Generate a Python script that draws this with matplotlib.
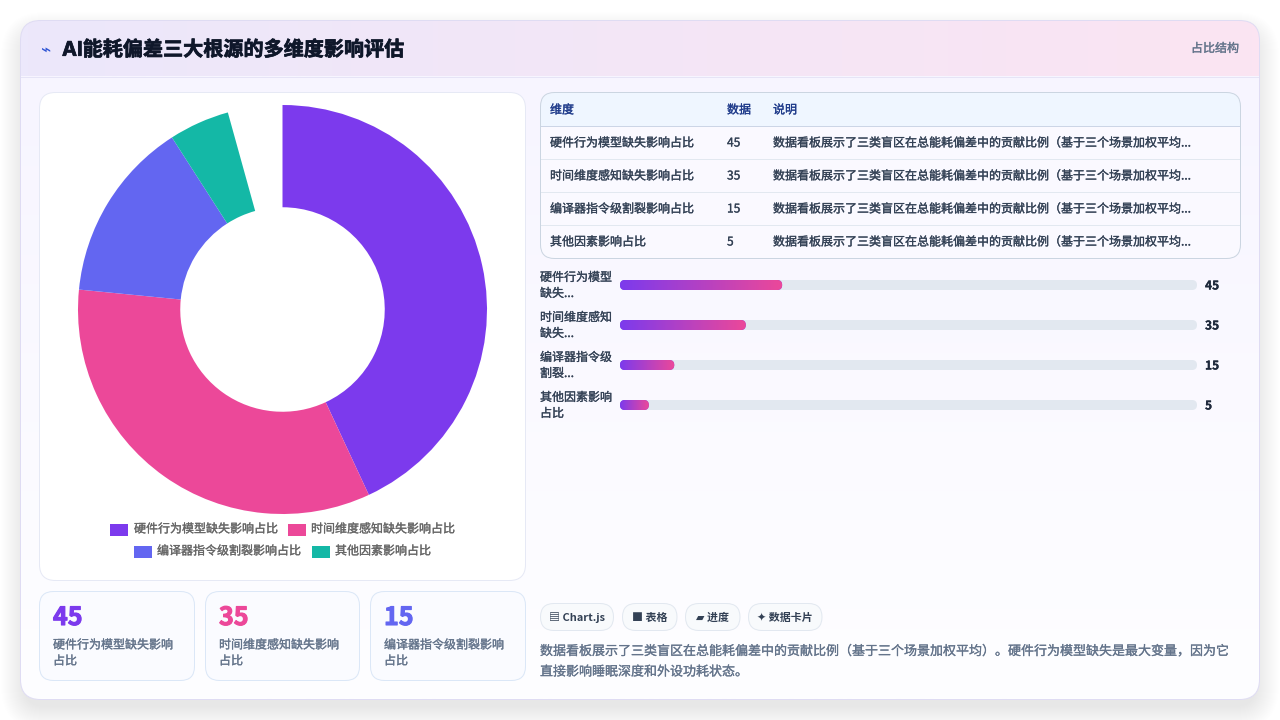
import numpy as np
import matplotlib
matplotlib.use('Agg')
import matplotlib.pyplot as plt
import matplotlib.patheffects as pe
from matplotlib.colors import LinearSegmentedColormap
from matplotlib.patches import FancyBboxPatch, Rectangle

plt.rcParams['font.family'] = ['Noto Sans CJK SC', 'DejaVu Sans']

# data
title = 'AI能耗偏差三大根源的多维度影响评估'
badge = '占比结构'
labels = ['硬件行为模型缺失影响占比', '时间维度感知缺失影响占比', '编译器指令级割裂影响占比', '其他因素影响占比']
values = [45, 35, 15, 5]
colors = ['#7c3aed', '#ec4899', '#6366f1', '#14b8a6']
pie_gap = 4.5  # blank part of the ring
table_head = ['维度', '数据', '说明']
table_note = '数据看板展示了三类盲区在总能耗偏差中的贡献比例（基于三个场景加权平均...'
bar_labels = [['硬件行为模型', '缺失...'], ['时间维度感知', '缺失...'], ['编译器指令级', '割裂...'], ['其他因素影响', '占比']]
bar_fill = [0.281, 0.218, 0.094, 0.050]  # fill share of the track
card_labels = [['硬件行为模型缺失影响', '占比'], ['时间维度感知缺失影响', '占比'], ['编译器指令级割裂影响', '占比']]
chips = ['▤ Chart.js', '■ 表格', '▰ 进度', '✦ 数据卡片']
desc = ['数据看板展示了三类盲区在总能耗偏差中的贡献比例（基于三个场景加权平均）。硬件行为模型缺失是最大变量，因为它',
        '直接影响睡眠深度和外设功耗状态。']


def px(size):
    return size * 0.72


def label(ax, x, y, s, size, color, stroke=0.2, **kw):
    # the reference text is a medium weight, a thin outline gets close to it
    kw.setdefault('va', 'center')
    t = ax.text(x, y, s, fontsize=px(size), color=color, zorder=3, **kw)
    if stroke:
        t.set_path_effects([pe.withStroke(linewidth=stroke, foreground=color)])
    return t


def rbox(ax, x0, y0, x1, y1, r, fc='none', ec='none', lw=0.72, z=2, alpha=None):
    p = FancyBboxPatch((x0 + r, y0 + r), x1 - x0 - 2 * r, y1 - y0 - 2 * r,
                       boxstyle=f'round,pad={r},rounding_size={r}',
                       fc=fc, ec=ec, lw=lw, zorder=z, alpha=alpha, mutation_aspect=1)
    ax.add_patch(p)
    return p


def grad(ax, x0, y0, x1, y1, c0, c1, clip, z=2, vertical=False):
    cmap = LinearSegmentedColormap.from_list('g', [c0, c1])
    g = np.linspace(0, 1, 256)
    g = g.reshape(-1, 1) if vertical else g.reshape(1, -1)
    im = ax.imshow(g, extent=(x0, x1, y1, y0), cmap=cmap, aspect='auto',
                   zorder=z, interpolation='bilinear')
    im.set_clip_path(clip)
    return im


fig = plt.figure(figsize=(12.8, 7.2), dpi=100, facecolor='#ffffff')
ax = fig.add_axes([0, 0, 1, 1])
ax.axis('off')

# shadow
for i in range(24):
    grow = 24 - i
    rbox(ax, 25 - grow, 36 - grow, 1255 + grow, 706 + grow, 20 + grow,
         fc='#404050', z=0.5, alpha=0.0024)

# main card
base = rbox(ax, 20.5, 20.5, 1259.5, 699.5, 20, fc='#faf9ff', z=1)
grad(ax, 21, 76, 1259, 699, '#f7f5ff', '#fefeff', base, z=1.1, vertical=True)
grad(ax, 21, 21, 1259, 76, '#ece8fb', '#fbe4f2', base, z=1.2)
ax.plot([21, 1259], [76.5, 76.5], color='#e6e4f6', lw=0.72, zorder=1.3)
rbox(ax, 20.5, 20.5, 1259.5, 699.5, 20, ec='#dfdcf3', z=1.4)

label(ax, 40.5, 50, '⌁', 17, '#2f55d4', stroke=0)
label(ax, 62, 50, title, 20.1, '#0f172a', stroke=0.5, fontweight='bold', family=['Inter', 'Noto Sans CJK SC'])
label(ax, 1239, 48.5, badge, 12, '#64748b', ha='right')

# left panel
rbox(ax, 39.5, 92.5, 525.5, 580.5, 16, fc='#ffffff', ec='#e6e9f5', z=2)

# legend
legend_pos = [(109.5, 530, 134), (288, 530, 311), (134, 552, 157), (312, 552, 335)]
for (sx, sy, tx), lab, c in zip(legend_pos, labels, colors):
    ax.add_patch(Rectangle((sx, sy - 6), 18, 12, fc=c, ec='none', zorder=3))
    label(ax, tx, sy - 1, lab, 12, '#666666')

# stat cards
card_x = [(39.5, 194.5), (205.5, 359.5), (370.5, 525.5)]
for (x0, x1), v, c, lab in zip(card_x, values, colors, card_labels):
    rbox(ax, x0, 591.5, x1, 680.5, 14, fc='#fafbff', ec='#dbe7f7', z=2)
    label(ax, x0 + 13.5, 618, str(v), 25, c, stroke=0.8, fontweight='bold')
    label(ax, x0 + 13.5, 645, lab[0], 12, '#64748b')
    label(ax, x0 + 13.5, 661, lab[1], 12, '#64748b')

# table
tb = rbox(ax, 540.5, 92.5, 1240.5, 258.5, 14, fc='#faf9ff', z=2)
head = ax.add_patch(Rectangle((541, 93), 699, 33, fc='#eff6ff', ec='none', zorder=2.1))
head.set_clip_path(tb)
col_x = [550, 727, 773]
for x, t in zip(col_x, table_head):
    label(ax, x, 110, t, 12, '#1e3a8a')
ax.plot([541, 1240], [125.5, 125.5], color='#ccd5e6', lw=0.72, zorder=2.5)
for i, (lab, v) in enumerate(zip(labels, values)):
    y = 143 + 33 * i
    label(ax, col_x[0], y, lab, 12, '#334155')
    label(ax, col_x[1], y, str(v), 12, '#334155')
    label(ax, col_x[2], y, table_note, 12, '#334155')
    if i < 3:
        ax.plot([541, 1240], [y + 15.5, y + 15.5], color='#e2e8f0', lw=0.72, zorder=2.5)
rbox(ax, 540.5, 92.5, 1240.5, 258.5, 14, ec='#cbd5e1', z=2.6)

# progress bars
track0, track1 = 620, 1197
for i, (lab, v, f) in enumerate(zip(bar_labels, values, bar_fill)):
    yc = 285 + 40 * i
    label(ax, 540, yc - 7.5, lab[0], 12, '#334155')
    label(ax, 540, yc + 8.5, lab[1], 12, '#334155')
    rbox(ax, track0, yc - 5, track1, yc + 5, 5, fc='#e2e8f0', z=2)
    x1 = track0 + f * (track1 - track0)
    clip = rbox(ax, track0, yc - 5, x1, yc + 5, 5, fc='#7c3aed', z=2.1)
    grad(ax, track0, yc - 5, x1, yc + 5, colors[0], colors[1], clip, z=2.2)
    label(ax, 1205, yc + 1, str(v), 12, '#1e293b', stroke=0.2, fontweight='bold')

# chips
chip_x = [(540.5, 613.5), (622.5, 677), (685.5, 740), (748.5, 822)]
for (x0, x1), t in zip(chip_x, chips):
    rbox(ax, x0, 603.5, x1, 630.5, 13.5, fc='#f8fafc', ec='#e2e8f0', z=2)
    label(ax, (x0 + x1) / 2, 617.5, t, 11, '#334155', stroke=0, fontweight='bold', ha='center')

# description
label(ax, 540, 651.5, desc[0], 13, '#64748b')
label(ax, 540, 672, desc[1], 13, '#64748b')

ax.set_xlim(0, 1280)
ax.set_ylim(720, 0)

# donut chart
cx, cy, radius = 282.5, 309.5, 204.5
pie_ax = fig.add_axes([(cx - radius) / 1280, (720 - cy - radius) / 720, 2 * radius / 1280, 2 * radius / 720])
wedges, _ = pie_ax.pie(values + [pie_gap], colors=colors + ['none'], startangle=90, counterclock=False,
                       radius=1, wedgeprops={'width': 0.5, 'linewidth': 0})
pie_ax.set_xlim(-1, 1)
pie_ax.set_ylim(-1, 1)
pie_ax.patch.set_alpha(0)

fig.savefig('out.png', dpi=100)
